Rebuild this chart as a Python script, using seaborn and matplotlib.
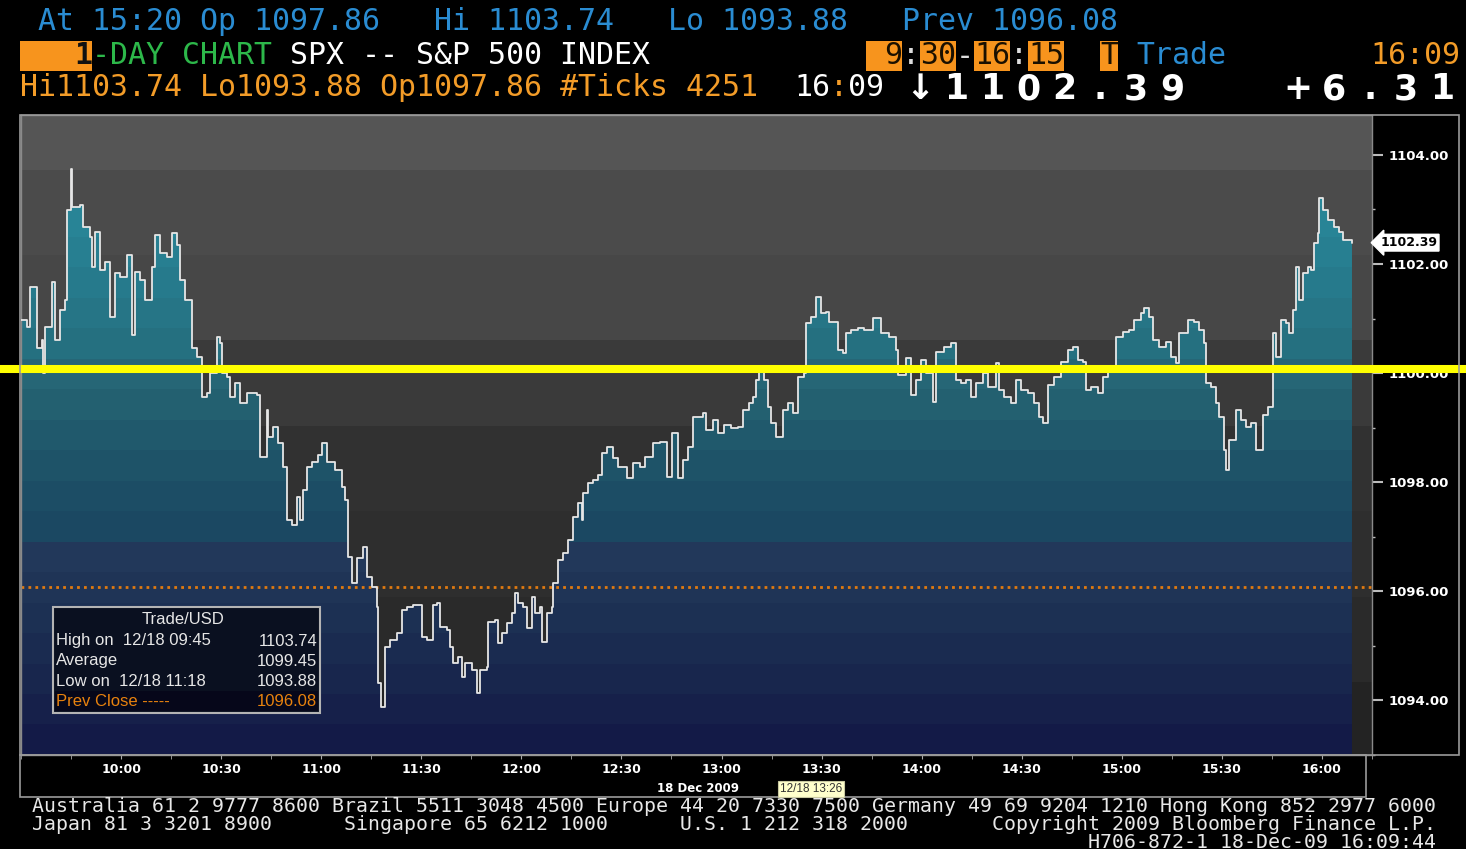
import numpy as np
import pandas as pd
import matplotlib
matplotlib.use('Agg')
import matplotlib.pyplot as plt
import matplotlib.ticker as mticker
import matplotlib.transforms as mtransforms
from matplotlib.patches import Rectangle
import seaborn as sns

## DATA
# minutes after the 9:30 open
minutes = [
    0.0, 1.8, 2.7, 4.2, 4.8, 6.3, 6.6, 7.2, 9.3, 10.2, 11.7, 13.2, 13.8, 15.0, 15.3, 17.7, 18.6, 20.7,
    21.3, 22.2, 23.7, 25.2, 26.7, 28.2, 29.7, 31.8, 33.3, 34.2, 35.7, 37.2, 39.3, 40.2, 41.7, 43.8,
    45.3, 46.8, 47.7, 49.2, 50.7, 51.3, 52.8, 54.3, 55.8, 56.7, 58.8, 59.7, 60.3, 61.8, 62.7, 64.2,
    65.7, 67.8, 70.8, 71.7, 73.8, 74.1, 75.6, 77.1, 78.6, 79.8, 81.3, 82.8, 83.7, 84.6, 85.8, 87.3,
    89.1, 90.3, 91.8, 94.2, 96.3, 97.2, 98.1, 99.3, 100.8, 102.6, 103.8, 105.3, 106.8, 107.1, 108.0,
    109.2, 110.7, 112.8, 114.3, 115.8, 117.6, 118.8, 120.3, 121.8, 123.6, 124.8, 125.7, 127.8, 128.7,
    129.6, 131.1, 132.3, 133.2, 135.3, 136.8, 137.7, 139.8, 140.1, 142.2, 143.1, 144.3, 145.8, 147.3,
    148.2, 149.1, 150.6, 151.8, 153.3, 154.2, 155.7, 156.3, 157.8, 159.3, 159.6, 161.1, 162.6, 164.1,
    165.6, 167.1, 168.3, 168.6, 170.1, 171.6, 173.1, 174.3, 175.8, 177.6, 179.1, 181.8, 183.6, 185.7,
    187.2, 189.6, 191.7, 193.8, 195.3, 197.1, 198.6, 200.1, 201.6, 204.3, 205.2, 207.3, 208.8, 210.6,
    212.7, 214.8, 216.3, 218.1, 219.3, 220.2, 221.1, 222.6, 223.8, 224.7, 226.2, 228.3, 229.8, 231.3,
    232.8, 234.6, 235.2, 236.7, 238.2, 239.7, 241.2, 242.1, 244.2, 244.8, 246.3, 247.2, 248.7, 250.8,
    252.6, 255.3, 257.7, 260.1, 262.2, 262.8, 263.7, 265.2, 266.7, 268.2, 269.7, 271.2, 273.3, 274.2,
    276.6, 278.7, 280.2, 281.7, 283.2, 284.7, 286.2, 288.3, 289.8, 292.2, 293.1, 294.6, 296.7, 298.2,
    299.7, 301.8, 303.6, 305.1, 306.3, 307.8, 309.6, 311.7, 313.8, 315.3, 316.8, 318.3, 319.2, 320.7,
    322.8, 324.3, 325.8, 328.2, 330.3, 332.1, 333.6, 335.7, 336.6, 338.1, 339.3, 341.1, 343.2, 344.7,
    346.2, 347.1, 349.8, 351.6, 353.1, 354.6, 355.2, 356.7, 358.2, 359.1, 360.6, 361.2, 362.1, 364.2,
    365.7, 367.2, 368.7, 370.2, 372.3, 373.8, 375.3, 376.2, 377.7, 379.2, 380.1, 381.3, 382.2, 383.1,
    384.3, 385.8, 386.7, 387.6, 388.8, 389.1, 390.3, 391.8, 393.6, 395.1, 396.3, 399.0,
]
prices = [
    1100.97, 1100.84, 1101.58, 1101.58, 1100.46, 1100.60, 1100.00, 1100.84, 1101.67, 1100.60, 1101.15,
    1101.34, 1102.99, 1103.74, 1103.04, 1103.08, 1102.67, 1102.49, 1101.94, 1102.58, 1101.89, 1102.03,
    1101.03, 1101.83, 1101.76, 1102.16, 1100.70, 1101.85, 1101.70, 1101.34, 1101.94, 1102.53, 1102.20,
    1102.13, 1102.56, 1102.34, 1101.70, 1101.34, 1101.34, 1100.46, 1100.29, 1099.56, 1099.63, 1100.00,
    1100.66, 1100.55, 1100.00, 1099.93, 1099.56, 1099.82, 1099.45, 1099.63, 1099.60, 1098.46, 1099.32,
    1098.83, 1099.01, 1098.72, 1098.28, 1097.31, 1097.22, 1097.73, 1097.31, 1097.86, 1098.28, 1098.37,
    1098.50, 1098.72, 1098.37, 1098.22, 1097.91, 1097.67, 1096.63, 1096.15, 1096.61, 1096.81, 1096.26,
    1096.08, 1095.71, 1094.32, 1093.88, 1094.98, 1095.11, 1095.24, 1095.66, 1095.71, 1095.75, 1095.75,
    1095.16, 1095.11, 1095.75, 1095.79, 1095.35, 1095.29, 1094.98, 1094.69, 1094.80, 1094.43, 1094.69,
    1094.56, 1094.14, 1094.56, 1094.61, 1095.44, 1095.48, 1095.05, 1095.24, 1095.42, 1095.60, 1095.97,
    1095.79, 1095.71, 1095.33, 1095.90, 1095.60, 1095.71, 1095.07, 1095.60, 1095.71, 1096.15, 1096.57,
    1096.70, 1096.94, 1097.36, 1097.62, 1097.31, 1097.80, 1097.98, 1098.04, 1098.13, 1098.53, 1098.64,
    1098.44, 1098.28, 1098.08, 1098.35, 1098.28, 1098.46, 1098.72, 1098.74, 1098.09, 1098.90, 1098.08,
    1098.41, 1098.64, 1099.19, 1099.27, 1098.96, 1099.14, 1098.90, 1099.05, 1098.99, 1099.01, 1099.32,
    1099.45, 1099.56, 1099.87, 1100.05, 1099.87, 1099.38, 1099.08, 1098.83, 1099.32, 1099.45, 1099.27,
    1099.93, 1100.00, 1100.92, 1101.03, 1101.39, 1101.10, 1101.12, 1100.93, 1100.93, 1100.42, 1100.37,
    1100.73, 1100.79, 1100.82, 1100.79, 1101.01, 1100.73, 1100.66, 1100.42, 1099.96, 1099.96, 1100.27,
    1099.60, 1099.87, 1100.24, 1100.00, 1099.47, 1100.38, 1100.48, 1100.55, 1099.87, 1099.82, 1099.87,
    1099.56, 1099.82, 1100.00, 1099.74, 1100.18, 1099.69, 1099.56, 1099.45, 1099.87, 1099.69, 1099.63,
    1099.45, 1099.19, 1099.08, 1099.78, 1099.93, 1100.20, 1100.42, 1100.48, 1100.24, 1100.20, 1099.69,
    1099.74, 1099.63, 1099.93, 1100.05, 1100.66, 1100.75, 1100.79, 1100.97, 1101.10, 1101.19, 1101.03,
    1100.60, 1100.48, 1100.57, 1100.29, 1100.18, 1100.73, 1100.97, 1100.93, 1100.79, 1100.55, 1099.82,
    1099.74, 1099.45, 1099.19, 1098.59, 1098.22, 1098.77, 1099.32, 1099.14, 1099.01, 1099.08, 1098.59,
    1099.23, 1099.38, 1100.73, 1100.29, 1100.97, 1100.92, 1100.73, 1101.15, 1101.94, 1101.34, 1101.83,
    1101.94, 1101.89, 1102.38, 1102.56, 1103.21, 1102.99, 1102.80, 1102.67, 1102.58, 1102.44, 1102.39,
]

prev_close = 1096.08
last_price = 1102.39
drawn_level = 1100.07   # the yellow line someone drew on the terminal

x_ticks = [30, 60, 90, 120, 150, 180, 210, 240, 270, 300, 330, 360, 390]
x_labels = ['10:00', '10:30', '11:00', '11:30', '12:00', '12:30', '13:00',
            '13:30', '14:00', '14:30', '15:00', '15:30', '16:00']
y_ticks = [1094, 1096, 1098, 1100, 1102, 1104]

legend_left = ['High on  12/18 09:45', 'Average', 'Low on  12/18 11:18', 'Prev Close -----']
legend_right = ['1103.74', '1099.45', '1093.88', '1096.08']

df = pd.DataFrame({'minute': minutes, 'price': prices})

## STYLE
W, H = 1466, 849
sns.set_style('dark')
plt.rcParams['font.family'] = ['DejaVu Sans']
mono = 'DejaVu Sans Mono'

# background bands (grey) and fill bands (teal -> navy), top to bottom
grey_edges = [1104.73, 1103.72, 1102.16, 1100.60, 1099.03, 1097.47, 1095.90, 1094.34, 1093.0]
grey_cols = ['#555555', '#4b4b4b', '#474747', '#3a3a3a', '#313131', '#2e2e2e', '#2a2a2a', '#232323']
fill_cols = ['#2b90a2', '#2a8c9e', '#29889a', '#288496', '#277f91', '#267a8c', '#267586', '#257080',
             '#266676', '#236070', '#20596c', '#1e5368', '#1c4d65', '#1b4862', '#22385a', '#1f3456',
             '#1c3053', '#1a2b50', '#18264d', '#16204a', '#131a47']

def fx(x):
    return x / W

def fy(y):
    return 1 - y / H

fig = plt.figure(figsize=(W / 100, H / 100), dpi=100, facecolor='black')
ax = fig.add_axes([fx(21), fy(755), (1372 - 21) / W, (755 - 115) / H])
ax.set_xlim(0, 405)
ax.set_ylim(1093.0, 1104.73)
ax.set_facecolor('#2a2a2a')

for top, bot, c in zip(grey_edges[:-1], grey_edges[1:], grey_cols):
    ax.axhspan(bot, top, color=c, lw=0, zorder=0)

# area under the curve, clipped banded gradient
poly = ax.fill_between(df['minute'], df['price'], 1093.0, step='post', color='none', lw=0, zorder=1)
rgb = np.array([matplotlib.colors.to_rgb(c) for c in fill_cols])[:, None, :]
im = ax.imshow(rgb, extent=(0, 405, 1093.0, 1104.73), aspect='auto',
               interpolation='nearest', origin='upper', zorder=1)
im.set_clip_path(poly.get_paths()[0], ax.transData)

sns.lineplot(data=df, x='minute', y='price', ax=ax, color='#e6e6e6', lw=1.3,
             estimator=None, sort=False, drawstyle='steps-post', zorder=3)

ax.axhline(prev_close, color='#e07a10', lw=2, ls=(0, (1, 1.5)), zorder=2.5)
ax.axhline(drawn_level, xmin=-21 / 1351, xmax=(W - 21) / 1351, color='#ffff00',
           lw=5.8, clip_on=False, zorder=10)

# axes cosmetics
ax.set_xlabel('')
ax.set_ylabel('')
ax.set_xticks(x_ticks, x_labels)
ax.xaxis.set_minor_locator(mticker.MultipleLocator(15))
ax.tick_params(axis='x', which='both', bottom=True, colors='#aaaaaa', length=3,
               labelcolor='white', labelsize=9, pad=3)
ax.yaxis.tick_right()
ax.set_yticks(y_ticks, [f'{v:.2f}' for v in y_ticks])
ax.yaxis.set_minor_locator(mticker.MultipleLocator(1))
ax.tick_params(axis='y', which='major', right=True, colors='#bbbbbb', length=8, width=1.5,
               labelcolor='white', labelsize=9.5, pad=4)
ax.tick_params(axis='y', which='minor', right=True, colors='#bbbbbb', length=2.5, width=1)
for lbl in ax.get_xticklabels() + ax.get_yticklabels():
    lbl.set_fontweight('bold')
for s in ax.spines.values():
    s.set_color('#8a8a8a')
    s.set_linewidth(1)
ax.grid(False)

# last price tag
trans = mtransforms.blended_transform_factory(ax.transAxes, ax.transData)
ax.text(1.006, last_price, '1102.39', transform=trans, ha='left', va='center', color='black',
        fontsize=9, fontweight='bold', zorder=11,
        bbox=dict(boxstyle='larrow,pad=0.15', fc='white', ec='white'))

# frames
fig.add_artist(Rectangle((fx(20), fy(755)), (1459 - 20) / W, (755 - 115) / H, fill=False,
                         ec='#9a9a9a', lw=1.2, transform=fig.transFigure))
fig.add_artist(Rectangle((fx(20), fy(797)), (1366 - 20) / W, (797 - 755) / H, fill=False,
                         ec='#9a9a9a', lw=1.2, transform=fig.transFigure))

fig.text(fx(698), fy(789), '18 Dec 2009', color='white', fontsize=8.5, fontweight='bold',
         ha='center', va='center')
fig.text(fx(811), fy(789), '12/18 13:26', color='#333333', fontsize=8.5, family='Liberation Sans',
         ha='center', va='center',
         bbox=dict(boxstyle='square,pad=0.15', fc='#ffffcc', ec='#c8c8a0', lw=0.8))

# legend box
fig.add_artist(Rectangle((fx(53), fy(713)), 267 / W, 106 / H, fc='#0a1020', ec='#b4b4b4',
                         lw=1.5, transform=fig.transFigure, zorder=5))
fig.add_artist(Rectangle((fx(55), fy(711)), 263 / W, 20 / H, fc='#06071a', ec='none',
                         transform=fig.transFigure, zorder=5))
fig.text(fx(183), fy(620), 'Trade/USD', color='#e6e6e6', fontsize=12,
         family='Liberation Sans', ha='center', va='center', zorder=6)
for i, (l, r) in enumerate(zip(legend_left, legend_right)):
    c = '#e8820e' if i == 3 else '#e6e6e6'
    yy = 641 + 20 * i
    fig.text(fx(56), fy(yy), l, color=c, fontsize=12, family='Liberation Sans',
             ha='left', va='center', zorder=6)
    fig.text(fx(317), fy(yy), r, color=c, fontsize=12, family='Liberation Sans',
             ha='right', va='center', zorder=6)

# terminal header (18 px character grid)
def cx(col):
    return fx(2 + 18 * col)

def term(col, y, s, color, **kw):
    fig.text(cx(col), fy(y), s, color=color, family=mono, fontsize=21.5,
             ha='left', va='center', **kw)

def obox(col, n, y0=41, y1=71):
    fig.add_artist(Rectangle((cx(col), fy(y1)), 18 * n / W, (y1 - y0) / H, fc='#f7941d',
                             ec='none', transform=fig.transFigure))

blue, green, orange = '#2a8cd2', '#2db84a', '#f39c28'
term(2, 22, 'At 15:20 Op 1097.86   Hi 1103.74   Lo 1093.88   Prev 1096.08', blue)

for c, n in [(1, 4), (48, 2), (51, 2), (54, 2), (57, 2), (61, 1)]:
    obox(c, n)
term(4, 56, '1', '#111111', fontweight='bold')
term(5, 56, '-DAY CHART', green)
term(16, 56, 'SPX -- S&P 500 INDEX', 'white')
term(49, 56, '9', '#1a1000')
term(50, 56, ':', '#dddddd')
term(51, 56, '30', '#1a1000')
term(53, 56, '-', '#dddddd')
term(54, 56, '16', '#1a1000')
term(56, 56, ':', '#dddddd')
term(57, 56, '15', '#1a1000')
term(61, 56, 'T', '#1a1000')
term(63, 56, 'Trade', blue)
term(76, 56, '16:09', orange)

term(1, 88, 'Hi1103.74 Lo1093.88 Op1097.86 #Ticks 4251', orange)
term(44, 88, '16', 'white')
term(46, 88, ':', orange)
term(47, 88, '09', 'white')

# double-width characters
def big(col, s):
    for i, ch in enumerate(s):
        fig.text(fx(2 + 18 * (col + 2 * i) + 18), fy(89), ch, color='white',
                 family='DejaVu Sans', fontsize=25, fontweight='bold', ha='center', va='center')

big(50, '\u2193')
big(52, '1102.39')
big(71, '+6.31')

# footer
foot = [
    'Australia 61 2 9777 8600 Brazil 5511 3048 4500 Europe 44 20 7330 7500 Germany 49 69 9204 1210 Hong Kong 852 2977 6000',
    'Japan 81 3 3201 8900      Singapore 65 6212 1000      U.S. 1 212 318 2000       Copyright 2009 Bloomberg Finance L.P.',
    ' ' * 88 + 'H706-872-1 18-Dec-09 16:09:44',
]
for i, line in enumerate(foot):
    fig.text(fx(32), fy(806 + 18 * i), line, color='#e8e8e8', family=mono, fontsize=14.3,
             ha='left', va='center')

fig.savefig('out.png', dpi=100, facecolor='black')
